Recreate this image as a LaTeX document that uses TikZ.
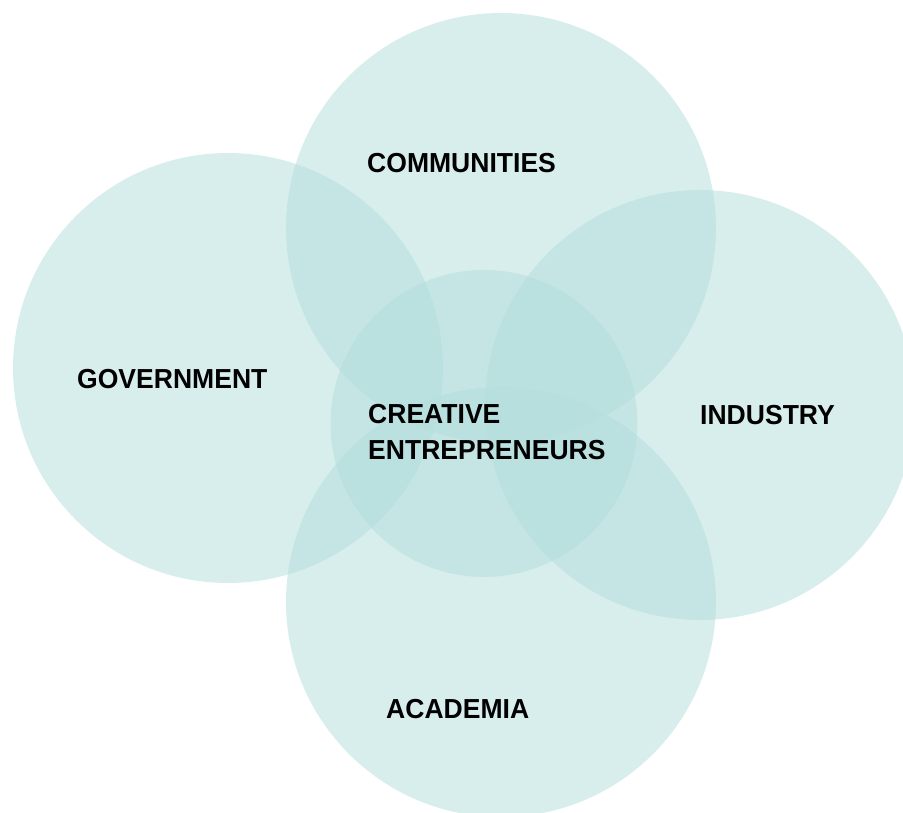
\documentclass[tikz,border=0pt]{standalone}
\usepackage{fontspec}
\setmainfont[FakeStretch=0.965]{Liberation Sans}
\definecolor{tealfill}{RGB}{177,221,219}
\begin{document}
\begin{tikzpicture}[x=1pt,y=-1pt,
  bigcirc/.style={circle, inner sep=0pt, minimum size=430pt, fill=tealfill, fill opacity=0.5, draw=none},
  midcirc/.style={circle, inner sep=0pt, minimum size=307pt, fill=tealfill, fill opacity=0.5, draw=none},
  lbl/.style={anchor=base west, inner sep=0pt, font=\fontsize{27.5}{36}\selectfont\bfseries, text=black, align=left}]
\useasboundingbox (0,0) rectangle (903,813);
\node[bigcirc] (comm) at (501,228) {};
\node[bigcirc] (gov) at (228,368) {};
\node[bigcirc] (ind) at (700,405) {};
\node[bigcirc] (acad) at (501,602) {};
\node[midcirc] (mid) at (484,423.5) {};
\node[lbl] (tcomm) at (367,173) {COMMUNITIES};
\node[lbl] (tgov) at (77,388) {GOVERNMENT};
\node[lbl] (tind) at (700,424) {INDUSTRY};
\node[lbl] (tacad) at (386,718) {ACADEMIA};
\node[lbl] (tcre) at (368,423) {CREATIVE};
\node[lbl] (tent) at (368,459) {ENTREPRENEURS};
\end{tikzpicture}
\end{document}
